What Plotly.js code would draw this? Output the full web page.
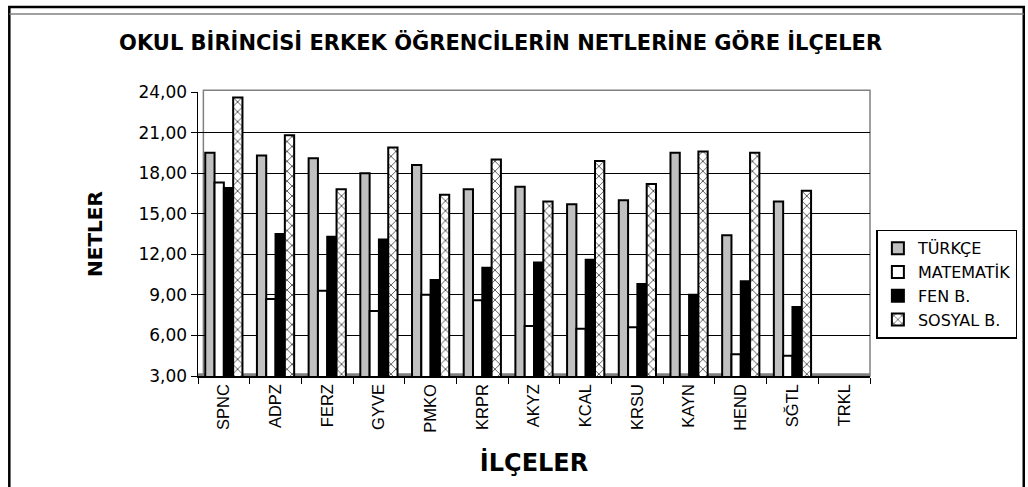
<!DOCTYPE html>
<html>
<head>
<meta charset="utf-8">
<script src="https://cdn.plot.ly/plotly-3.0.1.min.js"></script>
<style>
html,body{margin:0;padding:0;background:#fff;}
#chart{width:1028px;height:487px;}
</style>
</head>
<body>
<div id="chart"></div>
<script>
const categories = ['SPNC','ADPZ','FERZ','GYVE','PMKO','KRPR','AKYZ','KCAL','KRSU','KAYN','HEND','SĞTL','TRKL'];
const seriesNames = ['TÜRKÇE','MATEMATİK','FEN B.','SOSYAL B.'];
const turkce    = [19.5, 19.3, 19.1, 18.0, 18.6, 16.8, 17.0, 15.7, 16.0, 19.5, 13.4, 15.9, 0];
const matematik = [17.3,  8.7,  9.3,  7.8,  9.0,  8.6,  6.7,  6.5,  6.6,  0,    4.6,  4.5, 0];
const fen       = [16.9, 13.5, 13.3, 13.1, 10.1, 11.0, 11.4, 11.6,  9.8,  9.0, 10.0,  8.1, 0];
const sosyal    = [23.6, 20.8, 16.8, 19.9, 16.4, 19.0, 15.9, 18.9, 17.2, 19.6, 19.5, 16.7, 0];
const yTicks = [3, 6, 9, 12, 15, 18, 21, 24];

const chartTitle = 'OKUL BİRİNCİSİ ERKEK ÖĞRENCİLERİN NETLERİNE GÖRE İLÇELER';
const xTitle = 'İLÇELER';
const yTitle = 'NETLER';

const outline = {color: '#000', width: 2};
const traces = [
  {name: seriesNames[0], y: turkce, marker: {color: '#c0c0c0', line: outline}},
  {name: seriesNames[1], y: matematik, marker: {color: '#ffffff', line: outline}},
  {name: seriesNames[2], y: fen, marker: {color: '#000000', line: outline}},
  {name: seriesNames[3], y: sosyal, marker: {color: '#ffffff', line: outline,
     pattern: {shape: 'x', fgcolor: '#555555', bgcolor: '#ffffff', size: 7, solidity: 0.25}}}
].map((t, i) => Object.assign({type: 'bar', x: categories, legendgroup: 'g' + i, hoverinfo: 'skip'}, t));

const layout = {
  width: 1028, height: 487,
  margin: {l: 198, r: 157, t: 92, b: 111},
  paper_bgcolor: '#ffffff', plot_bgcolor: '#ffffff',
  separators: ', ',
  bargap: 0.28, bargroupgap: 0,
  showlegend: true,
  font: {family: 'Liberation Sans, Arial, sans-serif', color: '#000'},
  title: {text: chartTitle, x: 0.487, xref: 'container', xanchor: 'center',
          y: 0.912, yref: 'container', yanchor: 'middle',
          font: {family: 'DejaVu Sans', size: 21, weight: 'bold', color: '#000'}},
  xaxis: {
    type: 'category', showgrid: false, showline: true, linecolor: '#000', linewidth: 1.5,
    ticks: 'outside', ticklen: 6, tickcolor: '#000', tickwidth: 1, tickson: 'boundaries',
    tickangle: -90, tickfont: {family: 'Liberation Sans', size: 16.5, color: '#000'},
    title: {text: xTitle, standoff: 22, font: {family: 'DejaVu Sans', size: 24, weight: 'bold', color: '#000'}},
    zeroline: false, fixedrange: true
  },
  yaxis: {
    range: [3, 24], tickvals: yTicks, tickformat: '.2f',
    showgrid: true, gridcolor: '#000', gridwidth: 1,
    showline: true, linecolor: '#000', linewidth: 1.5,
    ticks: 'outside', ticklen: 6, tickcolor: '#000',
    tickfont: {family: 'DejaVu Sans', size: 17, color: '#000'},
    title: {text: yTitle, standoff: 30, font: {family: 'DejaVu Sans', size: 20, weight: 'bold', color: '#000'}},
    zeroline: false, fixedrange: true
  },
  legend: {
    x: 1.008, xanchor: 'left', y: 0.515, yanchor: 'top',
    bordercolor: '#000', borderwidth: 1.5, bgcolor: '#fff',
    font: {family: 'DejaVu Sans', size: 16, color: '#000'},
    traceorder: 'grouped', tracegroupgap: 0, itemclick: false, itemdoubleclick: false
  },
  shapes: [
    {type: 'rect', xref: 'paper', yref: 'paper', x0: 0.008, x1: 1, y0: 0, y1: 1.006,
     line: {color: '#808080', width: 1.5}, layer: 'below'},
    {type: 'rect', xref: 'paper', yref: 'paper', x0: 0, x1: 1, y0: 0, y1: 0.01,
     fillcolor: '#808080', line: {width: 0}, layer: 'below'},
    {type: 'rect', xref: 'paper', yref: 'paper', x0: -0.2808, x1: 1.2288, y0: -0.42, y1: 1.2993,
     line: {color: '#000', width: 2.5}, layer: 'above'},
    {type: 'line', xref: 'paper', yref: 'paper', x0: -0.2808, x1: 1.2288, y0: 1.2747, y1: 1.2747,
     line: {color: '#808080', width: 1.5}, layer: 'above'}
  ]
};

Plotly.newPlot('chart', traces, layout, {displayModeBar: false, staticPlot: true});
</script>
</body>
</html>
